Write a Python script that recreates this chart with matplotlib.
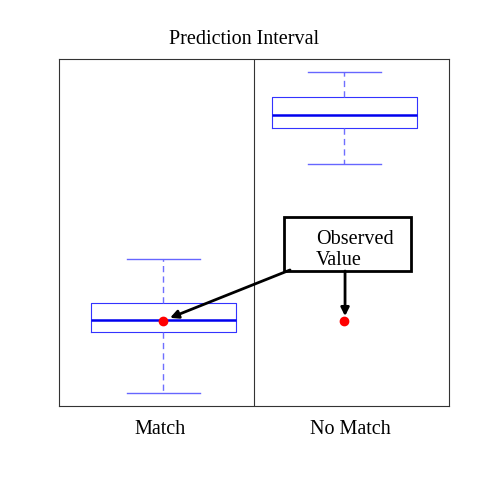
import matplotlib
matplotlib.use('Agg')
import matplotlib.pyplot as plt
import matplotlib.patches as patches

plt.rcParams['font.family'] = ['Liberation Serif', 'DejaVu Serif']

# box statistics (y axis 0..1)
groups = ['Match', 'No Match']
whislo = [0.037, 0.697]
q1 = [0.213, 0.801]
med = [0.248, 0.839]
q3 = [0.297, 0.890]
whishi = [0.424, 0.963]
observed = [0.245, 0.245]


def make_stats():
    stats = []
    for i, g in enumerate(groups):
        stats.append({'label': g, 'whislo': whislo[i], 'q1': q1[i], 'med': med[i],
                      'q3': q3[i], 'whishi': whishi[i], 'fliers': []})
    return stats


fig = plt.figure(figsize=(4.8, 4.8), dpi=100)
ax = fig.add_axes([0.1229, 0.1542, 0.8125, 0.7228])

pos = [1, 2]
ax.bxp(make_stats(), positions=pos, widths=0.8, showfliers=False,
       boxprops=dict(color='#3333ff', linewidth=0.8),
       medianprops=dict(color='#0000ee', linewidth=1.8),
       whiskerprops=dict(color='#6f6fff', linewidth=1.0, linestyle=(0, (4.5, 3))),
       capprops=dict(color='#6666ff', linewidth=1.0))

ax.plot(pos, observed, 'o', color='red', markersize=6, zorder=5)

ax.axvline(1.5, color='#333333', linewidth=0.8)
ax.set_xlim(0.4227, 2.5773)
ax.set_ylim(0, 1)
ax.set_yticks([])
ax.set_xticks([0.981, 2.03])
ax.set_xticklabels(groups, fontsize=14.5)
ax.tick_params(axis='x', length=0, pad=10)
for s in ax.spines.values():
    s.set_color('#333333')
    s.set_linewidth(0.8)

# annotation box
rect = patches.Rectangle((1.666, 0.389), 0.701, 0.156, fill=False,
                         edgecolor='black', linewidth=2, zorder=6)
ax.add_patch(rect)
ax.text(1.843, 0.449, 'Observed\nValue', fontsize=14.5, ha='left', va='center',
        linespacing=1.15, zorder=7)

arrow = dict(arrowstyle='-|>', color='black', linewidth=2, mutation_scale=12,
             shrinkA=0, shrinkB=0)
ax.annotate('', xy=(1.036, 0.254), xytext=(1.699, 0.392), arrowprops=arrow, zorder=6)
ax.annotate('', xy=(2.003, 0.259), xytext=(2.003, 0.389), arrowprops=arrow, zorder=6)

fig.text(0.508, 0.917, 'Prediction Interval', fontsize=14.5, ha='center', va='center')

fig.savefig('out.png', dpi=100)
